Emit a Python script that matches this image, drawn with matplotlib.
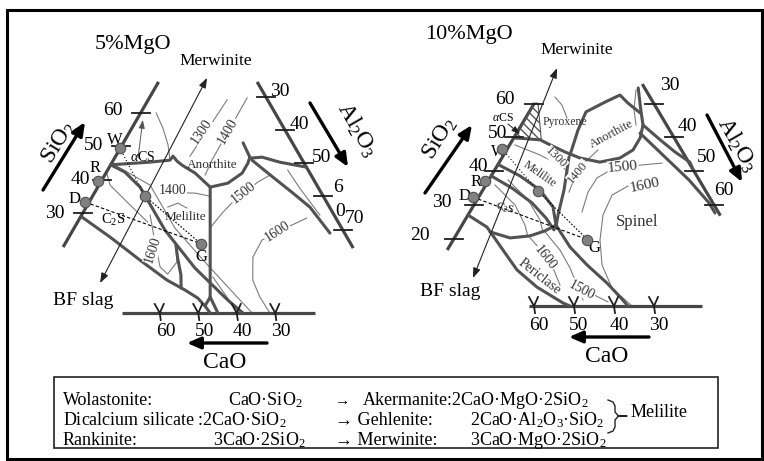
import numpy as np
import matplotlib.pyplot as plt
from matplotlib.patches import Rectangle, Polygon

plt.rcParams['font.family'] = ['Liberation Serif', 'DejaVu Serif']
plt.rcParams['mathtext.fontset'] = 'custom'
plt.rcParams['mathtext.rm'] = 'Liberation Serif'
plt.rcParams['mathtext.it'] = 'Liberation Serif:italic'

# ---------------- data (wt%): every curve is (SiO2 list, Al2O3 list) ----------------
# ternary geometry of the two sections (pixel origin, px per wt%, CaO+SiO2+Al2O3 total)
geom5 = dict(x0=25, y0=313, a=3.85, h=3.33, total=95)
geom10 = dict(x0=414, y0=306, a=4.0, h=3.37, total=90)

sio2_ticks5 = [30, 40, 50, 60]
sio2_ticks10 = [20, 30, 40, 50, 60]
al2o3_ticks5 = [30, 40, 50, 60, 70]
al2o3_ticks10 = [30, 40, 50, 60]
cao_ticks = [60, 50, 40, 30]

# compound points W, R, D, G and the slag point M
pts5 = {'W': (49.5, -0.1), 'R': (39.6, -0.8), 'D': (33.3, -1.0), 'G': (20.8, 35.3), 'M': (35.1, 13.6)}
pts10 = {'W': (46.6, -1.3), 'R': (37.1, -0.8), 'D': (32.3, -1.4), 'G': (19.7, 33.5), 'M': (34.1, 13.95)}

# 5% MgO: phase boundaries
b5_acs = ([44.5, 45.3, 45.9, 47.1, 45.6, 44.4, 42.0, 37.8], [0, 9.8, 14.7, 14.9, 16.7, 18.6, 23.2, 29.2])
b5_anor = ([37.8, 39.0, 42.0, 45.0, 46.8, 51.1], [29.2, 33.2, 35.4, 35.4, 35.0, 31.1])
b5_top = ([46.5, 46.8, 45.3, 43.8], [35.1, 38.2, 43.5, 51.2])
b5_right = ([45.9, 40.8, 36.0, 31.8, 24.0], [36.0, 44.0, 51.6, 58.1, 67.2])
b5_vert = ([37.8, 4.8, 2.1], [29.2, 45.7, 45.7])
b5_vert2 = ([4.8, 0], [45.7, 50.1])
b5_peric = ([28.8, 22.8, 15.9, 9.9, 6.9, 4.5, 2.1, 0], [0.4, 10.7, 21.9, 31.9, 38.1, 42.6, 45.7, 48.1])
b5_c2s = ([44.5, 42.3, 37.8, 24.9, 13.5, 3.9, 0], [0, 4.8, 11.0, 23.9, 37.4, 50.7, 56.6])
b5_loop = ([20.4, 16.5, 11.4, 7.5], [29.0, 31.4, 34.8, 36.8])
# 5% MgO: isotherms and thin lines
i5_1300 = ([64.0, 47.1], [20.5, 19.3])
i5_1400a = ([64.6, 45.9, 41.4], [25.4, 25.6, 26.1])
i5_1400b = ([36.3, 36.0, 35.1], [16.9, 26.2, 30.5])
i5_1500 = ([25.5, 30.0, 33.9, 39.3, 41.4], [35.3, 36.2, 37.5, 40.8, 42.9])
i5_1600a = ([28.5, 26.1, 21.9, 16.8, 9.9, 4.8, 0], [58.9, 55.7, 50.6, 50.8, 54.2, 58.6, 63.6])
i5_1600b = ([29.4, 21.0, 13.8, 11.7, 15.3, 19.8], [17.8, 23.3, 28.2, 31.2, 31.8, 29.3])
t5_a = ([60.1, 55.6, 50.5, 45.9], [4.0, 8.0, 11.9, 14.7])
t5_b = ([44.4, 38.4, 25.5, 15.3, 4.8, 0], [1.2, 13.3, 26.2, 39.1, 52.7, 59.0])
t5_c = ([42.3, 38.4, 33.0, 27.3], [0, 2.9, 10.3, 18.2])
t5_d = ([42.9, 37.5, 29.4], [46.8, 52.6, 61.9])
t5_e = ([10.8, 0.3], [43.4, 55.0])
t5_mel = ([31.8, 33.0, 31.5], [21.2, 23.2, 26.3])
arrow5 = ([70.6, 9.0], [12.0, 15.0])
acs5 = ([46.5, 58.0], [6.1, 1.6])

# 10% MgO: phase boundaries
b10_bowl = ([49.9, 49.3, 48.1, 45.7, 43.9, 42.7, 43.9, 46.3, 49.9, 53.7, 58.2, 64.7],
            [0.3, 6.9, 9.5, 14.9, 19.6, 25.1, 29.5, 31.6, 31.6, 30.4, 27.6, 23.7])
b10_anor = ([44.8, 52.2, 57.6, 60.5, 62.6, 60.2, 57.3], [16.6, 14.9, 14.2, 17.5, 20.2, 23.4, 27.9])
b10_vert = ([44.2, 34.4, 27.0, 23.1], [16.65, 20.3, 22.5, 23.9])
b10_mel1 = ([42.0, 38.6, 34.4, 29.4, 24.0], [0, 7.2, 14.3, 20.05, 23.5])
b10_mel2 = ([38.6, 35.0, 30.6, 26.1, 22.6], [0, 7.0, 14.2, 19.95, 23.7])
b10_peric = ([27.0, 23.4, 16.6, 10.7, 5.6, 0.9, 0], [0, 6.55, 13.95, 20.4, 27.95, 36.8, 39])
b10_arc = ([22.0, 20.2, 20.8, 22.3, 24.0], [8.0, 13.9, 18.6, 21.6, 23.5])
b10_spinel = ([24.0, 17.5, 12.2, 6.8, 2.7, 0], [23.5, 30.25, 37.15, 44.85, 50.15, 53.5])
b10_r1 = ([53.7, 49.3, 45.7, 42.7, 40.4], [30.4, 36.9, 42.4, 47.6, 49.6])
b10_r2 = ([51.3, 44.2, 37.4, 30.6, 27.6], [30.85, 40.65, 50.05, 58.45, 61.45])
hatch10 = ([60.2, 60.2, 49.6, 49.6], [0, 0.9, 7.0, 0.4])
# 10% MgO: isotherms and thin lines
t10_top = ([64.1, 58.2, 53.7], [23.45, 25.9, 28.65])
t10_pyx = ([62.0, 59.6, 55.8], [4.25, 7.2, 10.35])
i10_1300 = ([47.8, 44.8, 41.8, 39.8], [1.35, 9.1, 15.6, 18.6])
i10_1400 = ([46.3, 42.4, 38.3, 33.8], [22.85, 21.3, 21.1, 21.85])
i10_1500 = ([42.4, 41.8, 40.65, 38.0, 33.8, 27.9], [40.8, 35.6, 29.2, 26.75, 26.6, 28.05])
i10_1600 = ([35.6, 32.9, 27.0, 19.6, 12.2, 5.3, 0], [35.7, 33.05, 33.75, 36.7, 40.9, 46.85, 54.5])
t10_p1 = ([20.2, 16.0, 11.3, 6.2], [18.9, 24.25, 29.1, 33.4])
t10_p2 = ([22.0, 16.6, 11.3, 6.2, 1.8], [21.75, 28.2, 33.35, 37.65, 41.35])
t10_p3 = ([3.6, 1.2], [42.7, 47.9])
t10_c1 = ([35.9, 30.0, 24.0, 20.5], [2.3, 10.25, 15.75, 18.25])
t10_c2 = ([37.4, 31.5, 25.5, 22.0], [4.8, 12.75, 18.75, 21.25])
arrow10 = ([70.6, 8.3], [0.45, 10.6])

# edge extents
edge5 = dict(left=(19.8, 69.4), right=(25.6, 75.5), base=(25.2, 75.3))
edge10 = dict(left=(16.6, 60.2), right=(24.15, 63.2), base=(28.75, 72.0))


def tern(g, S, A):
    S = np.asarray(S, float)
    A = np.asarray(A, float)
    return g['x0'] + g['a'] * (A + S / 2), g['y0'] - g['h'] * S


fig = plt.figure(figsize=(7.64, 4.61), dpi=100)
ax = fig.add_axes([0, 0, 1, 1])
ax.set_xlim(0, 764)
ax.set_ylim(461, 0)
ax.axis('off')

THICK = dict(color='#525252', lw=2.2, solid_capstyle='round', solid_joinstyle='round', zorder=3)
AXIS = dict(color='#464646', lw=2.3, solid_capstyle='butt', zorder=3)
THIN = dict(color='#7c7c7c', lw=0.8, zorder=2)
TICK = dict(color='#1e1e1e', lw=1.3, zorder=4)
ISO = dict(ha='center', va='center', color='#333333',
           bbox=dict(fc='white', ec='none', pad=0.3), zorder=5)


def draw(g, c, style):
    x, y = tern(g, c[0], c[1])
    ax.plot(x, y, **style)


def frame(g, e, s_ticks, a_ticks):
    T = g['total']
    draw(g, (list(e['left']), [0, 0]), AXIS)
    ra = np.array(e['right'])
    draw(g, (list(T - ra), list(ra)), AXIS)
    draw(g, ([0, 0], list(e['base'])), AXIS)
    for s in s_ticks:
        x, y = tern(g, s, 0)
        ax.plot([x - 9, x + 9], [y, y], **TICK)
    for a in a_ticks:
        x, y = tern(g, T - a, a)
        ax.plot([x - 9, x + 9], [y, y], **TICK)
    for c in cao_ticks:
        x, y = tern(g, 0, T - c)
        ax.plot([x - 5, x, x + 4], [y - 9, y, y - 9], **TICK)
        ax.plot([x, x + 1], [y, y + 7], **TICK)


def points(g, pts):
    for k in ['W', 'R', 'D', 'G', 'M']:
        x, y = tern(g, *pts[k])
        ax.plot(x, y, 'o', ms=7.5, mfc='#808080', mec='#505050', mew=0.8, zorder=6)
    xd, yd = tern(g, *zip(pts['D'], pts['G']))
    ax.plot(xd, yd, color='k', lw=0.8, dashes=(3, 2), zorder=4)
    xm, ym = tern(g, *zip(pts['M'], pts['G']))
    ax.plot(xm, ym, color='k', lw=0.8, dashes=(1.5, 1.5), zorder=4)
    xw, yw = tern(g, *zip(pts['W'], pts['M']))
    ax.plot(xw, yw, color='k', lw=0.8, dashes=(1, 2), zorder=4)


def dbl_arrow(g, c):
    x, y = tern(g, c[0], c[1])
    ax.annotate('', xy=(x[0], y[0]), xytext=(x[1], y[1]),
                arrowprops=dict(arrowstyle='<|-|>,head_length=0.6,head_width=0.22',
                                color='#222', lw=0.8, shrinkA=0, shrinkB=0), zorder=4)


def big_arrow(p0, p1):
    ax.annotate('', xy=p1, xytext=p0,
                arrowprops=dict(arrowstyle='-|>,head_length=0.8,head_width=0.35',
                                color='k', lw=2.4, shrinkA=0, shrinkB=0))


def txt(s, x, y, fs=14, rot=0, ha='center', va='center', **kw):
    ax.text(x, y, s, fontsize=fs, rotation=rot, ha=ha, va=va,
            rotation_mode='anchor', **kw)


# ---------------- 5% MgO section ----------------
frame(geom5, edge5, sio2_ticks5, al2o3_ticks5)
for c in [b5_acs, b5_anor, b5_top, b5_right, b5_vert, b5_vert2, b5_peric, b5_c2s, b5_loop]:
    draw(geom5, c, THICK)
for c in [i5_1300, i5_1400a, i5_1400b, i5_1500, i5_1600a, i5_1600b,
          t5_a, t5_b, t5_c, t5_d, t5_e, t5_mel]:
    draw(geom5, c, THIN)
points(geom5, pts5)
dbl_arrow(geom5, arrow5)
xa, ya = tern(geom5, acs5[0], acs5[1])
ax.annotate('', xy=(xa[1], ya[1]), xytext=(xa[0], ya[0]),
            arrowprops=dict(arrowstyle='-|>,head_length=0.5,head_width=0.18',
                            color='#555', lw=0.7, shrinkA=0, shrinkB=0))

txt('5%MgO', 95, 44, 16, ha='left')
txt('Merwinite', 216, 61, 12.5)
txt('BF slag', 83, 300, 14)
txt('SiO$_2$', 59, 142, 17, rot=58)
big_arrow((43, 190), (85, 122))
txt('Al$_2$O$_3$', 357, 130, 17, rot=-60)
big_arrow((310, 103), (348, 167))
txt('CaO', 225, 362, 17)
big_arrow((267, 343), (187, 343))
for v, x, y in zip([30, 40, 50, 60], [65, 90, 103, 123], [213, 179, 145, 110]):
    txt(str(v), x, y, 14, ha='right')
for s, x, y in zip(['30', '40', '50', '6', '0', '70'],
                   [270, 290, 312, 333, 335, 345], [91, 124, 157, 187, 211, 218]):
    txt(s, x, y, 14, ha='left')
for c in cao_ticks:
    x, _ = tern(geom5, 0, geom5['total'] - c)
    txt(str(c), x + 6, 331, 14)
for s, x, y in [('W', 115, 140), ('R', 95, 168), ('D', 75, 199), ('G', 201, 257)]:
    txt(s, x, y, 12)
txt(r'$\alpha$CS', 143, 157, 10)
txt('C$_2$S', 113, 220, 10.5)
txt('Anorthite', 212, 165, 9.5, color='#333')
txt('Melilite', 185, 217, 9.5, color='#333')
for s, x, y, r in [('1300', 202, 132, 56), ('1400', 228, 131, 60), ('1400', 173, 190, 0),
                   ('1500', 243, 193, 38), ('1600', 277, 232, 33), ('1600', 153, 250, 72)]:
    ax.text(x, y, s, fontsize=10, rotation=r, rotation_mode='anchor', **ISO)

# ---------------- 10% MgO section ----------------
frame(geom10, edge10, sio2_ticks10, al2o3_ticks10)
hx, hy = tern(geom10, hatch10[0], hatch10[1])
ax.add_patch(Polygon(np.column_stack([hx, hy]), closed=True, fill=False,
                     hatch='\\\\\\\\', ec='#555', lw=0.8, zorder=3))
for c in [b10_bowl, b10_anor, b10_vert, b10_mel1, b10_mel2, b10_peric, b10_arc,
          b10_spinel, b10_r1, b10_r2]:
    draw(geom10, c, THICK)
for c in [t10_top, t10_pyx, i10_1300, i10_1400, i10_1500, i10_1600,
          t10_p1, t10_p2, t10_p3, t10_c1, t10_c2]:
    draw(geom10, c, THIN)
points(geom10, pts10)
dbl_arrow(geom10, arrow10)
ax.annotate('', xy=(520, 134), xytext=(508, 124),
            arrowprops=dict(arrowstyle='-|>,head_length=0.5,head_width=0.18',
                            color='#222', lw=0.7, shrinkA=0, shrinkB=0))

txt('10%MgO', 425, 34, 16, ha='left')
txt('Merwinite', 577, 50, 12.5)
txt('BF slag', 450, 291, 14)
txt('SiO$_2$', 440, 138, 17, rot=58)
big_arrow((425, 193), (472, 125))
txt('Al$_2$O$_3$', 737, 145, 17, rot=-60)
big_arrow((707, 115), (742, 182))
txt('CaO', 607, 356, 17)
big_arrow((649, 337), (569, 337))
for v, x, y in zip(sio2_ticks10, [430, 452, 488, 507, 515], [235, 202, 166, 133, 99]):
    txt(str(v), x, y, 14, ha='right')
for v, x, y in zip(al2o3_ticks10, [660, 678, 697, 714], [85, 126, 157, 190]):
    txt(str(v), x, y, 14, ha='left')
for c in cao_ticks:
    x, _ = tern(geom10, 0, geom10['total'] - c)
    txt(str(c), x + 5, 325, 14)
for s, x, y in [('W', 499, 152), ('R', 476, 182), ('D', 465, 196), ('G', 594, 248)]:
    txt(s, x, y, 12)
txt(r'$\alpha$CS', 503, 118, 8.5)
txt('Pyroxene', 565, 122, 8.5, color='#333')
txt('C$_2$S', 505, 208, 8, rot=-15)
txt('Spinel', 637, 222, 12, color='#333')
txt('Periclase', 539, 277, 10, rot=-38, color='#333')
txt('Anorthite', 612, 134, 9, rot=28, color='#333')
txt('Melilite', 540, 174, 8.5, rot=-35, color='#333')
for s, x, y, r, f in [('1300', 556, 158, -45, 9), ('1400', 578, 172, 50, 9),
                      ('1500', 623, 167, 5, 11), ('1600', 645, 185, 12, 11),
                      ('1600', 545, 258, -52, 10), ('1500', 582, 290, -28, 10)]:
    ax.text(x, y, s, fontsize=f, rotation=r, rotation_mode='anchor', **ISO)

# ---------------- legend box and outer frame ----------------
ax.add_patch(Rectangle((7, 10), 755, 449, fill=False, ec='k', lw=2.2))
ax.add_patch(Rectangle((54, 377), 664, 71, fill=False, ec='#222', lw=1.2))
LF = 13
rows = [405, 425, 445]
txt('Wolastonite:', 63, rows[0], LF, ha='left', va='baseline')
txt('CaO·SiO$_2$', 228, rows[0], LF, ha='left', va='baseline')
txt('→', 335, rows[0], LF - 2, ha='left', va='baseline')
txt('Akermanite:2CaO·MgO·2SiO$_2$', 362, rows[0], LF, ha='left', va='baseline')
txt('Dicalcium silicate :2CaO·SiO$_2$', 63, rows[1], LF, ha='left', va='baseline')
txt('→ Gehlenite:', 335, rows[1], LF, ha='left', va='baseline')
txt('2CaO·Al$_2$O$_3$·SiO$_2$', 470, rows[1], LF, ha='left', va='baseline')
txt('Rankinite:', 63, rows[2], LF, ha='left', va='baseline')
txt('3CaO·2SiO$_2$', 213, rows[2], LF, ha='left', va='baseline')
txt('→ Merwinite:', 335, rows[2], LF, ha='left', va='baseline')
txt('3CaO·MgO·2SiO$_2$', 470, rows[2], LF, ha='left', va='baseline')
ax.plot([608, 613, 615, 615, 618, 627, 618, 615, 615, 613, 608],
        [400, 402, 406, 412, 415.5, 416, 416.5, 420, 427, 431, 433], color='#222', lw=1)
txt('Melilite', 631, 417, LF, ha='left', va='baseline')

fig.savefig('out.png', dpi=100)
